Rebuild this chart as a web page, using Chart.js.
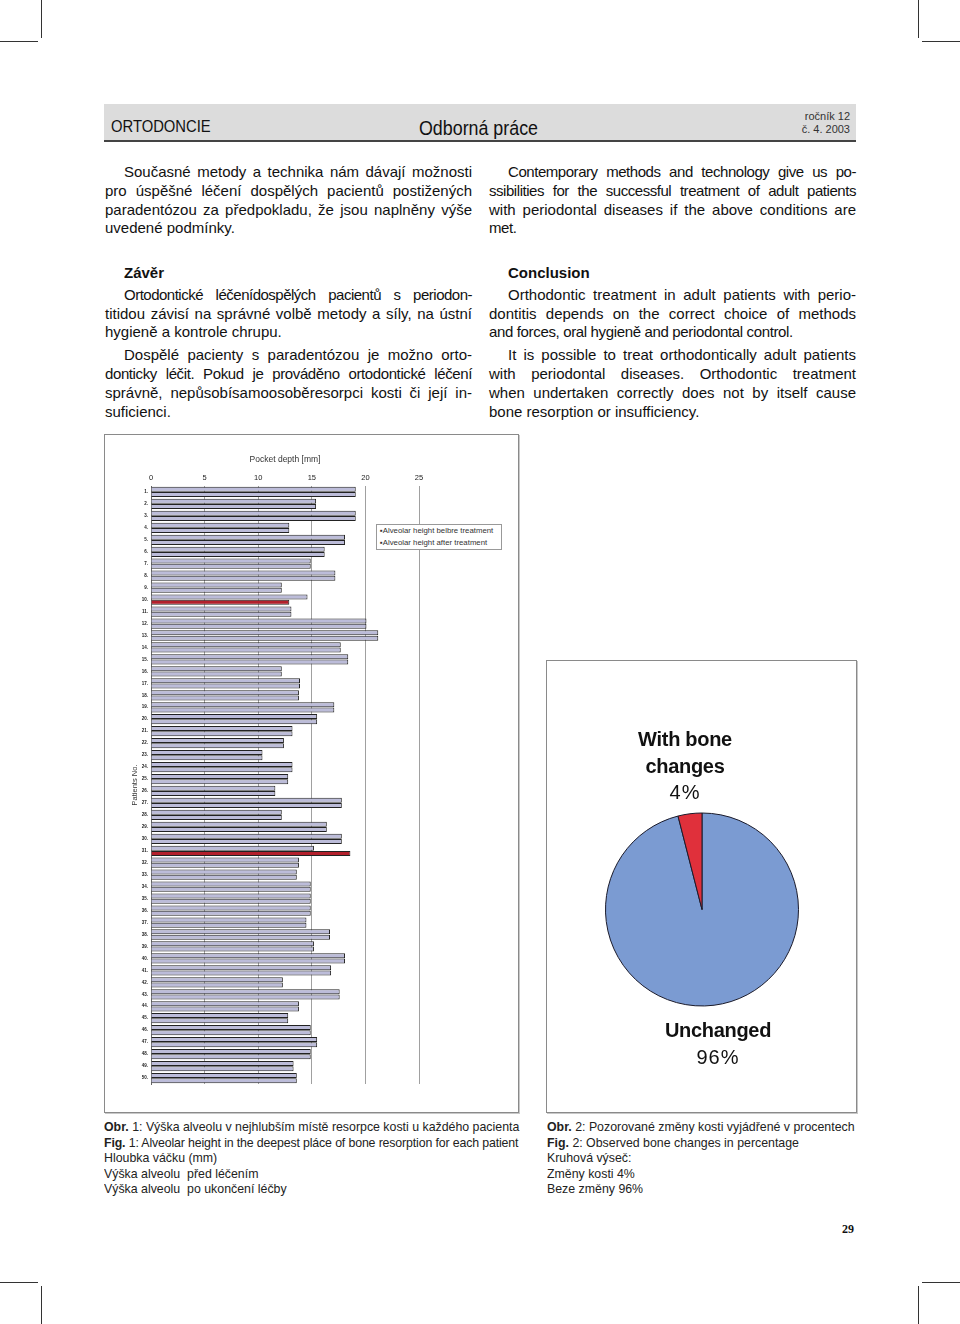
<!DOCTYPE html>
<html>
<head>
<meta charset="utf-8">
<script src="https://cdn.jsdelivr.net/npm/chart.js@4"></script>
<style>
  body { margin: 0; background: #fff; }
  #page { position: relative; width: 960px; height: 1324px; overflow: hidden; font-family: "Liberation Sans", Arial, sans-serif; color: #111; }
  .abs { position: absolute; }
  .crop { position: absolute; background: #333; }
  .narrow { transform: scaleX(0.87); transform-origin: left top; white-space: nowrap; }
  #header { left: 104px; top: 104px; width: 752px; height: 36px; background: #dcdcdc; border-bottom: 2px solid #444; }
  .col { position: absolute; font-size: 15px; line-height: 18.8px; }
  .col .j { text-align: justify; text-align-last: justify; }
  .col .ind { text-indent: 19px; }
  .col b { font-weight: bold; }
  .box { position: absolute; border: 1px solid #8a8a8a; box-shadow: 1px 1px 0 #c8c8c8; background: #fff; }
  .cap { position: absolute; font-size: 13px; line-height: 15.5px; color: #222; transform: scaleX(0.95); transform-origin: left top; white-space: nowrap; }
  #legend { left: 376px; top: 524px; width: 126px; height: 26px; border: 1px solid #999; background: #fff; font-size: 7.8px; line-height: 12px; padding-left: 3px; box-sizing: border-box; color: #333; white-space: nowrap; }
  .pl { position: absolute; text-align: center; font-weight: bold; font-size: 20px; line-height: 26.5px; color: #111; letter-spacing: -0.3px; }
  .pl span { font-weight: normal; letter-spacing: 1px; }
</style>
</head>
<body>
<div id="page">
  <div class="crop" style="left:0;top:41px;width:38px;height:1px"></div>
  <div class="crop" style="left:41px;top:0;width:1px;height:38px"></div>
  <div class="crop" style="left:922px;top:41px;width:38px;height:1px"></div>
  <div class="crop" style="left:918px;top:0;width:1px;height:38px"></div>
  <div class="crop" style="left:0;top:1282px;width:38px;height:1px"></div>
  <div class="crop" style="left:41px;top:1286px;width:1px;height:38px"></div>
  <div class="crop" style="left:922px;top:1282px;width:38px;height:1px"></div>
  <div class="crop" style="left:918px;top:1286px;width:1px;height:38px"></div>

  <div id="header" class="abs"></div>
  <div class="abs narrow" style="left:111px;top:117px;font-size:17px;">ORTODONCIE</div>
  <div class="abs narrow" style="left:419px;top:116px;font-size:20.5px;">Odborná práce</div>
  <div class="abs" style="left:760px;width:90px;top:110px;text-align:right;font-size:11px;line-height:13px;color:#333;">ročník 12<br>č. 4. 2003</div>

  <div class="col" style="left:105px;top:163px;width:367px;">
    <div class="j ind">Současné metody a technika nám dávají možnosti</div>
    <div class="j">pro úspěšné léčení dospělých pacientů postižených</div>
    <div class="j">paradentózou za předpokladu, že jsou naplněny výše</div>
    <div>uvedené podmínky.</div>
  </div>
  <div class="col" style="left:489px;top:163px;width:367px;letter-spacing:-0.45px;">
    <div class="j ind">Contemporary methods and technology give us po-</div>
    <div class="j">ssibilities for the successful treatment of adult patients</div>
    <div class="j" style="letter-spacing:0">with periodontal diseases if the above conditions are</div>
    <div>met.</div>
  </div>

  <div class="col" style="left:105px;top:264px;width:367px;">
    <div style="padding-left:19px"><b>Závěr</b></div>
    <div class="j ind" style="margin-top:3px;letter-spacing:-0.5px">Ortodontické léčenídospělých pacientů s periodon-</div>
    <div class="j">titidou závisí na správné volbě metody a síly, na ústní</div>
    <div>hygieně a kontrole chrupu.</div>
    <div class="j ind" style="margin-top:4px">Dospělé pacienty s paradentózou je možno orto-</div>
    <div class="j" style="letter-spacing:-0.4px">donticky léčit. Pokud je prováděno ortodontické léčení</div>
    <div class="j">správně, nepůsobísamoosoběresorpci kosti či její in-</div>
    <div>suficienci.</div>
  </div>
  <div class="col" style="left:489px;top:264px;width:367px;">
    <div style="padding-left:19px"><b>Conclusion</b></div>
    <div class="j ind" style="margin-top:3px">Orthodontic treatment in adult patients with perio-</div>
    <div class="j">dontitis depends on the correct choice of methods</div>
    <div style="letter-spacing:-0.35px">and forces, oral hygieně and periodontal control.</div>
    <div class="j ind" style="margin-top:4px">It is possible to treat orthodontically adult patients</div>
    <div class="j">with periodontal diseases. Orthodontic treatment</div>
    <div class="j">when undertaken correctly does not by itself cause</div>
    <div>bone resorption or insufficiency.</div>
  </div>

  <div class="box" style="left:104px;top:434px;width:413px;height:677px;">
    <canvas id="barChart" width="410" height="674" style="position:absolute;left:1px;top:1px;"></canvas>
  </div>
  <div id="legend" class="abs">
    <div>▪Alveolar height belbre treatment</div>
    <div>▪Alveolar height after treatment</div>
  </div>

  <div class="box" style="left:546px;top:660px;width:309px;height:451px;">
    <canvas id="pieChart" width="306" height="448" style="position:absolute;left:1px;top:1px;"></canvas>
  </div>
  <div id="pieLabels"></div>

  <div class="cap" style="left:104px;top:1119px;">
    <div><b>Obr.</b> 1: Výška alveolu v nejhlubším místě resorpce kosti u každého pacienta</div>
    <div style="letter-spacing:-0.15px"><b>Fig.</b> 1: Alveolar height in the deepest pláce of bone resorption for each patient</div>
    <div>Hloubka váčku (mm)</div>
    <div>Výška alveolu&nbsp; před léčením</div>
    <div>Výška alveolu&nbsp; po ukončení léčby</div>
  </div>
  <div class="cap" style="left:547px;top:1119px;">
    <div><b>Obr.</b> 2: Pozorované změny kosti vyjádřené v procentech</div>
    <div><b>Fig.</b> 2: Observed bone changes in percentage</div>
    <div>Kruhová výseč:</div>
    <div>Změny kosti 4%</div>
    <div>Beze změny 96%</div>
  </div>
  <div class="abs" style="left:842px;top:1222px;font-family:'Liberation Serif',serif;font-weight:bold;font-size:12px;">29</div>
</div>

<script>
// Fig. 1 - alveolar height per patient (mm)
const patients = ['1.','2.','3.','4.','5.','6.','7.','8.','9.','10.',
  '11.','12.','13.','14.','15.','16.','17.','18.','19.','20.',
  '21.','22.','23.','24.','25.','26.','27.','28.','29.','30.',
  '31.','32.','33.','34.','35.','36.','37.','38.','39.','40.',
  '41.','42.','43.','44.','45.','46.','47.','48.','49.','50.'];
const heightBefore = [19.1, 15.4, 19.1, 12.9, 18.1, 16.2, 14.9, 17.2, 12.2, 14.6,
  13.1, 20.1, 21.2, 17.7, 18.4, 12.2, 13.9, 13.8, 17.1, 15.5,
  13.2, 12.4, 10.4, 13.2, 12.8, 11.6, 17.8, 12.2, 16.4, 17.8,
  15.2, 13.8, 13.6, 14.9, 14.9, 14.9, 14.5, 16.7, 15.2, 18.1,
  16.8, 12.3, 17.6, 13.8, 12.8, 14.9, 15.5, 14.9, 13.3, 13.6];
const heightAfter = [19.1, 15.4, 19.1, 12.9, 18.1, 16.2, 14.9, 17.2, 12.2, 12.9,
  13.1, 20.1, 21.2, 17.7, 18.4, 12.2, 13.9, 13.8, 17.1, 15.5,
  13.2, 12.4, 10.4, 13.2, 12.8, 11.6, 17.8, 12.2, 16.4, 17.8,
  18.6, 13.8, 13.6, 14.9, 14.9, 14.9, 14.5, 16.7, 15.2, 18.1,
  16.8, 12.3, 17.6, 13.8, 12.8, 14.9, 15.5, 14.9, 13.3, 13.6];
const depthTicks = [0, 5, 10, 15, 20, 25];

// Fig. 2 - bone changes
const pieLabels = ['Unchanged', 'With bone changes'];
const pieValues = [96, 4];

const barFill = '#bcbcd9';
const changedFill = '#b3202c';

new Chart(document.getElementById('barChart'), {
  type: 'bar',
  data: {
    labels: patients,
    datasets: [
      { label: 'Alveolar height belbre treatment', data: heightBefore,
        backgroundColor: barFill, borderColor: '#222', borderWidth: 1 },
      { label: 'Alveolar height after treatment', data: heightAfter,
        backgroundColor: ctx => heightAfter[ctx.dataIndex] !== heightBefore[ctx.dataIndex] ? changedFill : barFill,
        borderColor: '#222', borderWidth: 1 }
    ]
  },
  options: {
    indexAxis: 'y',
    responsive: false,
    animation: false,
    datasets: { bar: { categoryPercentage: 0.88, barPercentage: 0.95 } },
    layout: { padding: { left: 16, right: 97, top: 19, bottom: 26 } },
    plugins: { legend: { display: false }, tooltip: { enabled: false } },
    scales: {
      x: {
        position: 'top', min: 0, max: 25,
        afterBuildTicks: s => { s.ticks = depthTicks.map(v => ({ value: v })); },
        afterFit: s => { s.height = 31; },
        ticks: { padding: 4, color: '#222', font: { size: 7.5, family: 'Liberation Sans' } },
        grid: { color: '#a0a0a0', drawTicks: false },
        border: { display: false },
        title: { display: true, text: 'Pocket depth [mm]', color: '#333', padding: { top: 0, bottom: 2 },
                 font: { size: 8.5, family: 'Liberation Sans' } }
      },
      y: {
        afterFit: s => { s.width = 29; },
        ticks: { autoSkip: false, padding: 3, color: '#222', font: { size: 4.5, weight: 'bold' } },
        grid: { display: false, drawTicks: false },
        border: { color: '#666' },
        title: { display: true, text: 'Patients No.', color: '#333', padding: { top: 8, bottom: 0 },
                 font: { size: 7.5, family: 'Liberation Sans' } }
      }
    }
  }
});

new Chart(document.getElementById('pieChart'), {
  type: 'pie',
  data: {
    labels: pieLabels,
    datasets: [{ data: pieValues, backgroundColor: ['#7b9bd2', '#e0303b'], borderColor: '#1a1a2a', borderWidth: 1 }]
  },
  options: {
    responsive: false,
    animation: false,
    layout: { padding: { left: 57, right: 55, top: 150, bottom: 103 } },
    plugins: { legend: { display: false }, tooltip: { enabled: false } }
  }
});

// slice labels as page text
const holder = document.getElementById('pieLabels');
const labelSpots = [{ left: 618, top: 1017, width: 200 }, { left: 585, top: 726, width: 200 }];
pieLabels.forEach((name, i) => {
  const el = document.createElement('div');
  el.className = 'pl';
  el.style.left = labelSpots[i].left + 'px';
  el.style.top = labelSpots[i].top + 'px';
  el.style.width = labelSpots[i].width + 'px';
  const words = i === 1 ? 'With bone<br>changes' : name;
  el.innerHTML = words + '<br><span>' + pieValues[i] + '%</span>';
  holder.appendChild(el);
});
</script>
</body>
</html>
